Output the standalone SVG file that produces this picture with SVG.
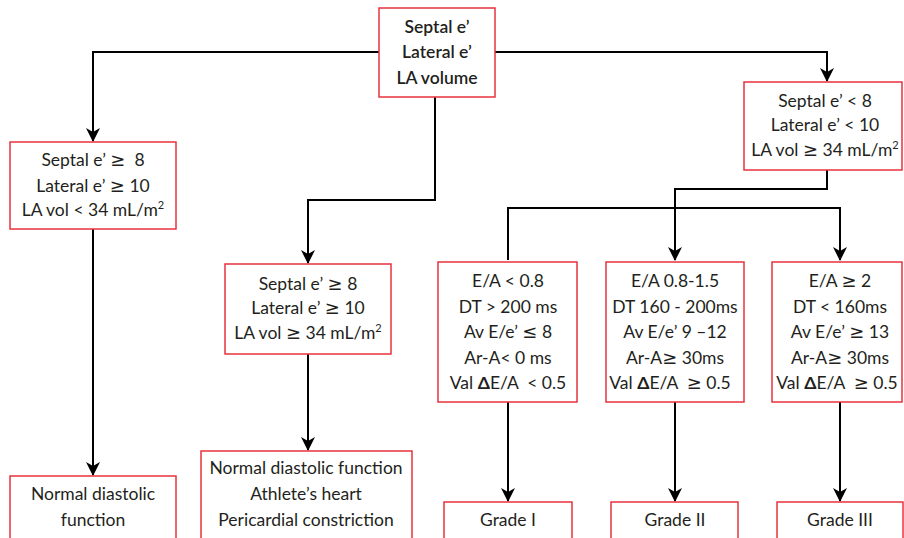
<svg xmlns="http://www.w3.org/2000/svg" width="904" height="538" viewBox="0 0 904 538">
<defs>
<marker id="arr" markerUnits="userSpaceOnUse" markerWidth="14" markerHeight="16" viewBox="0 0 14 16" refX="13" refY="7" orient="auto">
<path d="M0,0 L14,7 L0,14 L4,7 z" fill="#000"/>
</marker>
<style>
.box{fill:#fff;stroke:#e8323e;stroke-width:1.5}
.t{font-family:Lato,"Open Sans","Noto Sans",sans-serif;font-size:17.5px;fill:#231f20;text-anchor:middle}
.b{font-weight:600}
.s{font-family:"DejaVu Sans",sans-serif;font-size:18px}
.c{fill:none;stroke:#000;stroke-width:2;marker-end:url(#arr)}
.sup{font-size:11px}
</style>
</defs>
<rect width="904" height="538" fill="#fff"/>
<g id="connectors">
<path class="c" d="M379,52 H93 V141"/>
<path class="c" d="M495,52 H827 V81"/>
<path class="c" d="M435,97 V200 H308 V263"/>
<path class="c" d="M827,170 V189 H675 V260"/>
<path class="c" d="M508,260 V208 H840 V260"/>
<path class="c" d="M93,229 V475"/>
<path class="c" d="M308,354 V450"/>
<path class="c" d="M508,402 V501"/>
<path class="c" d="M675,402 V501"/>
<path class="c" d="M840,402 V501"/>
</g>
<g id="root">
<rect class="box" x="379" y="8" width="116" height="89"/>
<text class="t b" x="437" y="33">Septal e’</text>
<text class="t b" x="437" y="58">Lateral e’</text>
<text class="t b" x="437" y="84">LA volume</text>
</g>
<g id="normal-criteria">
<rect class="box" x="10" y="142" width="166" height="87"/>
<text class="t" x="93" y="166" xml:space="preserve">Septal e’ <tspan class="s">≥</tspan>  8</text>
<text class="t" x="93" y="192">Lateral e’ <tspan class="s">≥</tspan> 10</text>
<text class="t" x="93" y="216">LA vol &lt; 34 mL/m<tspan class="sup" dy="-7">2</tspan></text>
</g>
<g id="athlete-criteria">
<rect class="box" x="225" y="264" width="166" height="90"/>
<text class="t" x="308" y="290">Septal e’ <tspan class="s">≥</tspan> 8</text>
<text class="t" x="308" y="314">Lateral e’ <tspan class="s">≥</tspan> 10</text>
<text class="t" x="308" y="339">LA vol <tspan class="s">≥</tspan> 34 mL/m<tspan class="sup" dy="-7">2</tspan></text>
</g>
<g id="abnormal-criteria">
<rect class="box" x="744" y="82" width="158" height="88"/>
<text class="t" x="825" y="107">Septal e’ &lt; 8</text>
<text class="t" x="825" y="131">Lateral e’ &lt; 10</text>
<text class="t" x="825" y="156">LA vol <tspan class="s">≥</tspan> 34 mL/m<tspan class="sup" dy="-7">2</tspan></text>
</g>
<g id="grade1-criteria">
<rect class="box" x="438" y="262" width="139" height="140"/>
<text class="t" x="508" y="287">E/A &lt; 0.8</text>
<text class="t" x="508" y="313">DT &gt; 200 ms</text>
<text class="t" x="508" y="338">Av E/e’ <tspan class="s">≤</tspan> 8</text>
<text class="t" x="508" y="364">Ar-A&lt; 0 ms</text>
<text class="t" x="508" y="389" xml:space="preserve">Val <tspan font-weight="bold">Δ</tspan>E/A  &lt; 0.5</text>
</g>
<g id="grade2-criteria">
<rect class="box" x="606" y="262" width="138" height="140"/>
<text class="t" x="675" y="287">E/A 0.8-1.5</text>
<text class="t" x="675" y="313">DT 160 - 200ms</text>
<text class="t" x="675" y="338">Av E/e’ 9 –12</text>
<text class="t" x="675" y="364">Ar-A<tspan class="s">≥</tspan> 30ms</text>
<text class="t" x="670" y="389" xml:space="preserve">Val <tspan font-weight="bold">Δ</tspan>E/A  <tspan class="s">≥</tspan> 0.5</text>
</g>
<g id="grade3-criteria">
<rect class="box" x="772" y="262" width="130" height="140"/>
<text class="t" x="840" y="287">E/A <tspan class="s">≥</tspan> 2</text>
<text class="t" x="840" y="313">DT &lt; 160ms</text>
<text class="t" x="840" y="338">Av E/e’ <tspan class="s">≥</tspan> 13</text>
<text class="t" x="840" y="364">Ar-A<tspan class="s">≥</tspan> 30ms</text>
<text class="t" x="837" y="389" xml:space="preserve">Val <tspan font-weight="bold">Δ</tspan>E/A  <tspan class="s">≥</tspan> 0.5</text>
</g>
<g id="normal">
<rect class="box" x="10" y="476" width="166" height="70"/>
<text class="t" x="93" y="500">Normal diastolic</text>
<text class="t" x="93" y="526">function</text>
</g>
<g id="athlete">
<rect class="box" x="201" y="451" width="211" height="95"/>
<text class="t" x="306" y="474">Normal diastolic function</text>
<text class="t" x="306" y="500">Athlete’s heart</text>
<text class="t" x="306" y="526">Pericardial constriction</text>
</g>
<g id="grade1">
<rect class="box" x="444" y="502" width="128" height="44"/>
<text class="t" x="508" y="526">Grade I</text>
</g>
<g id="grade2">
<rect class="box" x="611" y="502" width="127" height="44"/>
<text class="t" x="675" y="526">Grade II</text>
</g>
<g id="grade3">
<rect class="box" x="777" y="502" width="126" height="44"/>
<text class="t" x="840" y="526">Grade III</text>
</g>
</svg>
